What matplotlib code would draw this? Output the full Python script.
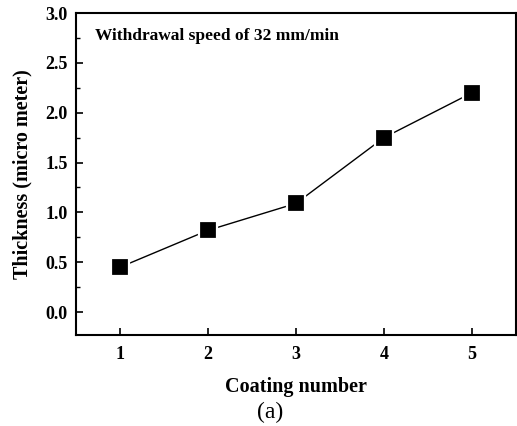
import matplotlib
matplotlib.use("Agg")
import matplotlib.pyplot as plt
from matplotlib.ticker import MultipleLocator

coating_number = [1, 2, 3, 4, 5]
thickness = [0.45, 0.82, 1.09, 1.75, 2.20]
annotation = "Withdrawal speed of 32 mm/min"

plt.rcParams['font.family'] = ['Liberation Serif', 'DejaVu Serif']

fig = plt.figure(figsize=(5.17, 4.26), dpi=100)
ax = fig.add_axes([76/517, 1-335/426, (516-76)/517, (335-13)/426])

ax.plot(coating_number, thickness, color='black', lw=1.0, marker='s',
        markersize=12.5, markerfacecolor='black', markeredgecolor='white',
        markeredgewidth=1.6)

ax.set_xlim(0.5, 5.5)
ax.set_ylim(-0.23, 3.0)
ax.set_xticks(coating_number)
ax.yaxis.set_major_locator(MultipleLocator(0.5))
ax.yaxis.set_minor_locator(MultipleLocator(0.25))
ax.tick_params(axis='both', which='major', direction='in', length=5, width=1.2,
               labelsize=13)
ax.tick_params(axis='y', which='minor', direction='in', length=3, width=1)
ax.tick_params(axis='x', which='major', pad=8)
ax.tick_params(axis='y', which='major', pad=6)
ax.set_xticklabels([str(v) for v in coating_number], fontweight='bold')
ax.set_yticks([0.0, 0.5, 1.0, 1.5, 2.0, 2.5, 3.0])
ax.set_yticklabels([f"{v:.1f}" for v in [0.0, 0.5, 1.0, 1.5, 2.0, 2.5, 3.0]],
                   fontweight='bold')
ax.set_ylim(-0.23, 3.0)
for s in ax.spines.values():
    s.set_linewidth(1.5)

ax.set_xlabel("Coating number", fontsize=14.5, fontweight='bold', labelpad=10)
ax.set_ylabel("Thickness (micro meter)", fontsize=14.5, fontweight='bold', labelpad=9)
ax.text(0.043, 0.93, annotation, transform=ax.transAxes, fontsize=12.5,
        fontweight='bold', va='center', ha='left')
fig.text(270/517, 1-412/426, "(a)", fontsize=17, ha='center', va='center')

fig.savefig("out.png", dpi=100)
